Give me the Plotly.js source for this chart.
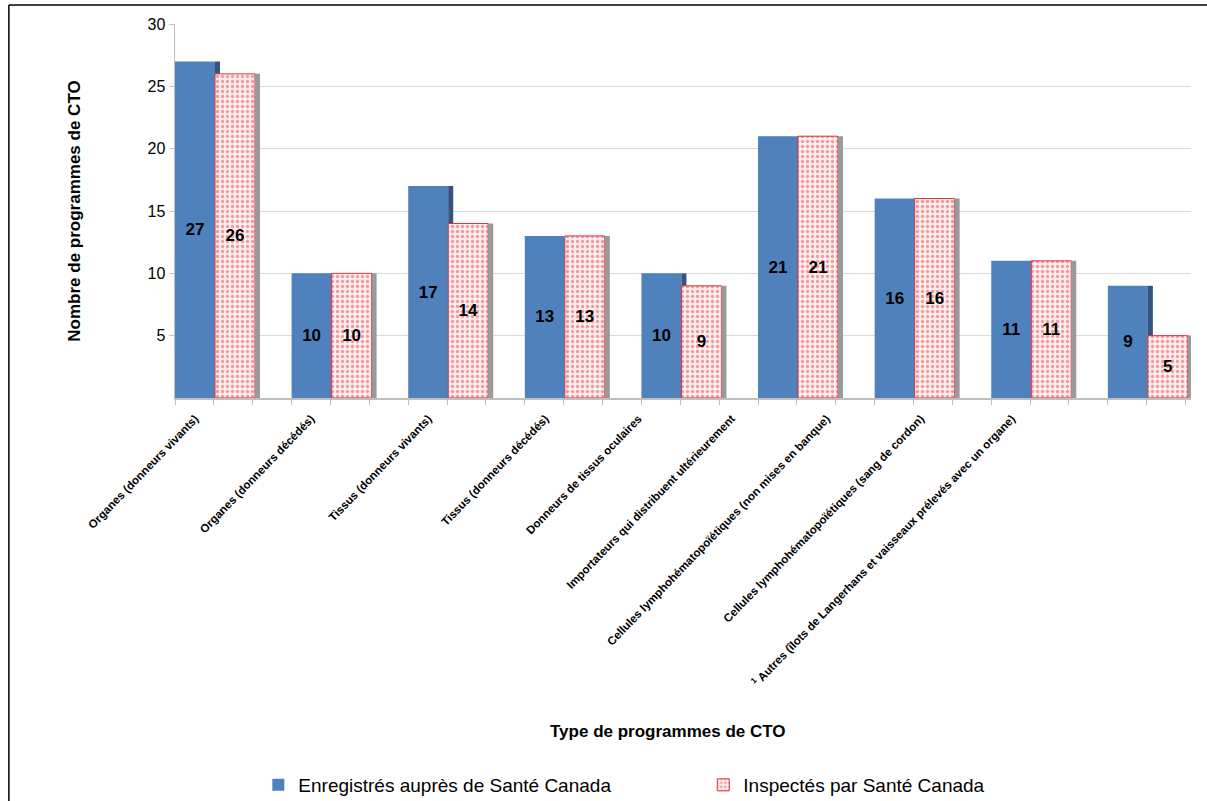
<!DOCTYPE html>
<html>
<head>
<meta charset="utf-8">
<script src="https://cdn.plot.ly/plotly-3.0.1.min.js"></script>
<style>html,body{margin:0;padding:0;background:#fff;}#chart{width:1207px;height:801px;}</style>
</head>
<body>
<div id="chart"></div>
<script>
const categories = [
  "Organes (donneurs vivants)",
  "Organes (donneurs décédés)",
  "Tissus (donneurs vivants)",
  "Tissus (donneurs décédés)",
  "Donneurs de tissus oculaires",
  "Importateurs qui distribuent ultérieurement",
  "Cellules lymphohématopoïétiques (non mises en banque)",
  "Cellules lymphohématopoïétiques (sang de cordon)",
  "<sup>1</sup> Autres (îlots de Langerhans et vaisseaux prélevés avec un organe)"
];
const enregistres = [27, 10, 17, 13, 10, 21, 16, 11, 9];
const inspectes = [26, 10, 14, 13, 9, 21, 16, 11, 5];
const seriesNames = ["Enregistrés auprès de Santé Canada", "Inspectés par Santé Canada"];
const yTicks = [5, 10, 15, 20, 25, 30];
const xTitle = "Type de programmes de CTO";
const yTitle = "Nombre de programmes de CTO";

const idx = categories.map((c, i) => i);
// label anchor positions (the reference labels drift left of their bars)
const labelPos = [-0.171, 0.824, 1.829, 2.833, 3.631, 4.430, 5.245, 6.052, 6.833];
const FONT = "Liberation Sans, Arial, sans-serif";
const BW = 0.343, SW = 0.043;

const traces = [
  {type:'bar', x: idx, y: enregistres, name: seriesNames[0], width: BW, offset: -BW,
   marker:{color:'#4f81bd', line:{width:0}},
   text: enregistres.map(String), textposition:'inside', insidetextanchor:'middle',
   textangle:0, constraintext:'none',
   textfont:{family:FONT, size:17, color:'#000', weight:'bold'}, hoverinfo:'y'},
  {type:'bar', x: idx, y: enregistres, showlegend:false, width: SW, offset: 0,
   marker:{color:'#34547f', line:{width:0}}, hoverinfo:'skip'},
  {type:'bar', x: idx, y: inspectes, name: seriesNames[1], width: BW, offset: 0,
   marker:{color:'#fde9ea', line:{color:'#e0303a', width:1},
           pattern:{shape:'.', fgcolor:'#f29aa0', bgcolor:'#fdeeee', size:5, solidity:0.35}},
   text: inspectes.map(String), textposition:'inside', insidetextanchor:'middle',
   textangle:0, constraintext:'none',
   textfont:{family:FONT, size:17, color:'#000', weight:'bold'}, hoverinfo:'y'},
  {type:'bar', x: idx, y: inspectes, showlegend:false, width: SW, offset: BW,
   marker:{color:'#9a9a9a', line:{width:0}}, hoverinfo:'skip'}
];

const layout = {
  width:1207, height:801,
  margin:{l:175, r:16, t:24, b:403},
  paper_bgcolor:'#fff', plot_bgcolor:'#fff',
  barmode:'overlay',
  font:{family:FONT, color:'#000'},
  xaxis:{
    type:'linear', range:[-0.343, 8.37], automargin:false,
    tickmode:'array', tickvals: labelPos, ticktext: categories,
    tickangle:-46, ticklabelstandoff:8, tickfont:{family:FONT, size:11.5, color:'#000', weight:'bold'},
    showgrid:false, zeroline:false, showline:true, linecolor:'#bfbfbf', linewidth:1.5, ticks:'',
    minor:{ticks:'outside', tick0:-0.343, dtick:1/3, ticklen:5, tickcolor:'#bfbfbf', showgrid:false}
  },
  yaxis:{
    range:[0,30], tickvals:yTicks, ticks:'outside', ticklen:5, tickcolor:'#bfbfbf', automargin:false,
    tickfont:{family:FONT, size:16, color:'#000'},
    showgrid:true, gridcolor:'#d9d9d9', zeroline:false, showline:true, linecolor:'#bfbfbf', linewidth:1.5,
    title:{text:yTitle, font:{family:FONT, size:17, weight:'bold'}, standoff:62}
  },
  annotations:[{text:xTitle, xref:'paper', yref:'paper', x:0.485, y:-0.893, xanchor:'center', yanchor:'middle',
    showarrow:false, font:{family:FONT, size:17, weight:'bold', color:'#000'}}],
  legend:{orientation:'h', xref:'paper', x:0.082, xanchor:'left', yref:'container', y:0.02, yanchor:'middle',
    font:{family:FONT, size:19}, entrywidth:400, itemwidth:30, traceorder:'normal', bgcolor:'rgba(0,0,0,0)'},
  shapes:[
    {type:'line', xref:'paper', yref:'paper', x0:-0.1635, x1:1.02, y0:1.0508, y1:1.0508, line:{color:'#000', width:1.5}},
    {type:'line', xref:'paper', yref:'paper', x0:-0.1635, x1:-0.1635, y0:1.0508, y1:-1.1, line:{color:'#000', width:1.5}}
  ],
  showlegend:true
};

Plotly.newPlot('chart', traces, layout, {displayModeBar:false, staticPlot:true});
</script>
</body>
</html>
